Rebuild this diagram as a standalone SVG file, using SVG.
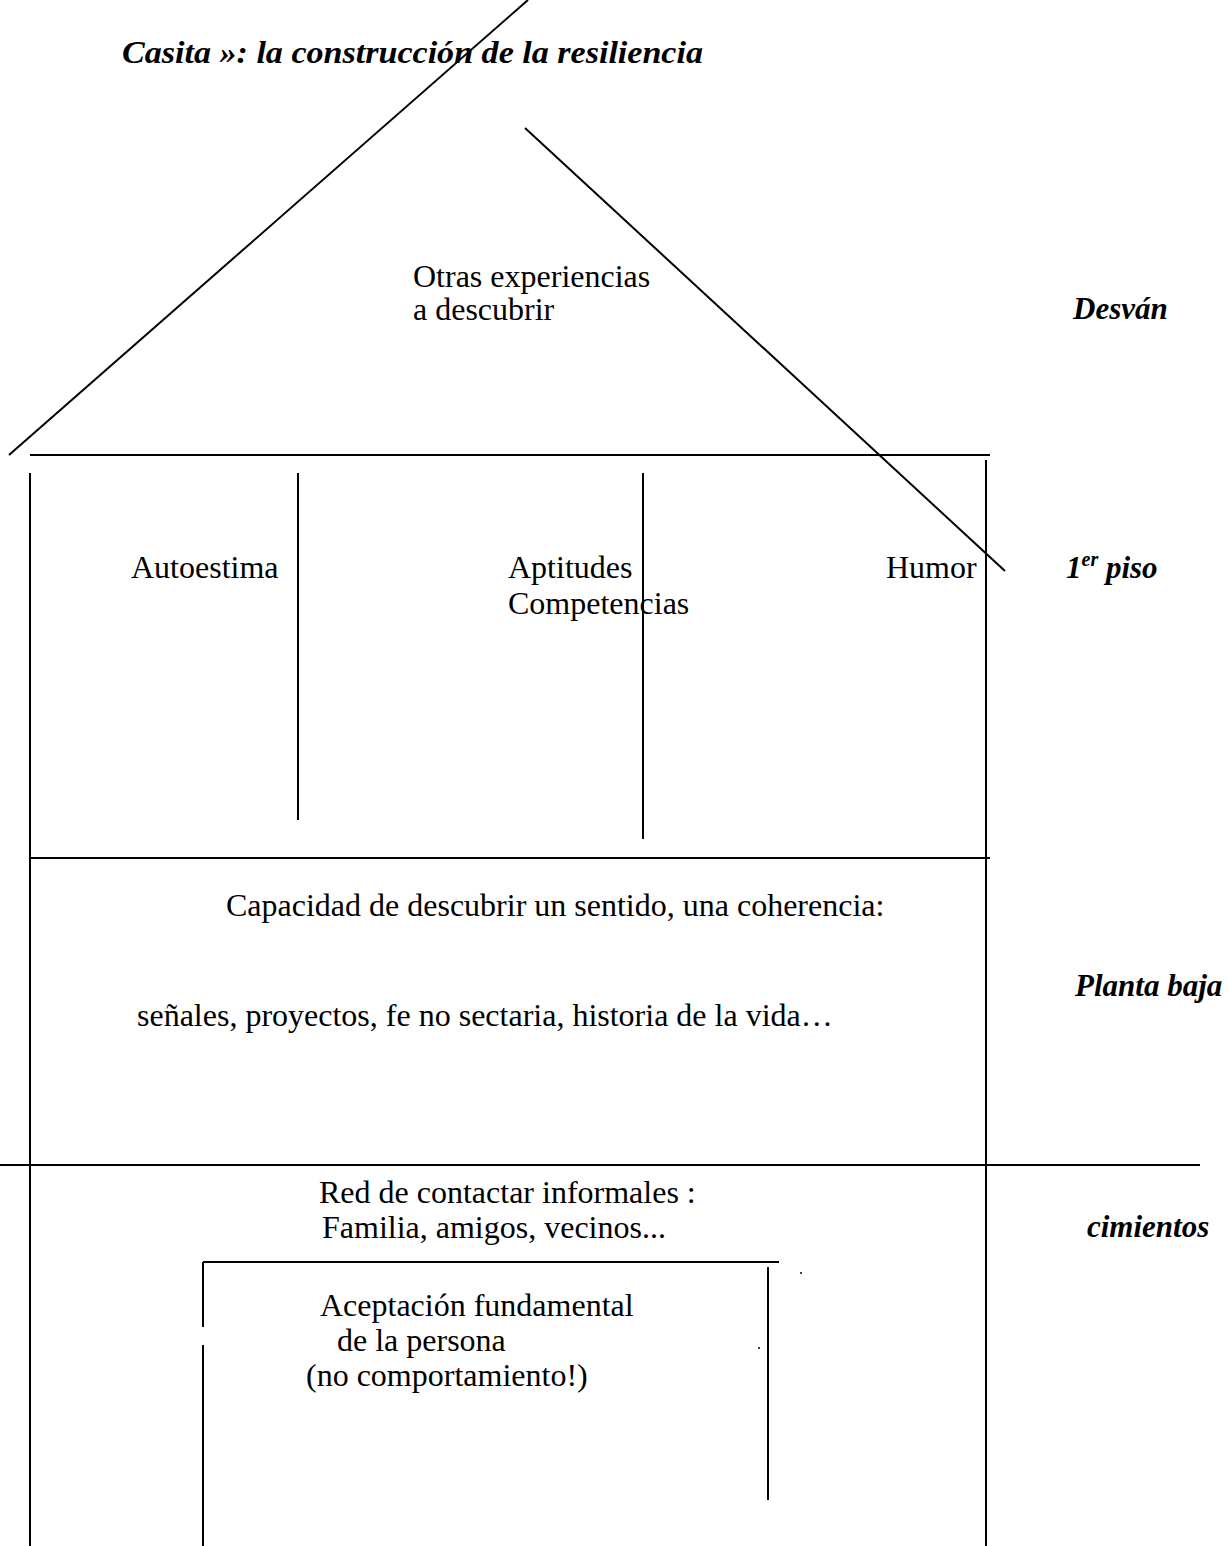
<svg xmlns="http://www.w3.org/2000/svg" width="1228" height="1546" viewBox="0 0 1228 1546">
<style>
.t{font-family:"Liberation Serif","Times New Roman",serif;font-size:32px;fill:#000}
.b{font-family:"Liberation Serif","Times New Roman",serif;font-size:31px;font-weight:bold;font-style:italic;fill:#000}
.l{stroke:#000;stroke-width:2;fill:none}
</style>
<rect width="1228" height="1546" fill="#fff"/>
<g id="title"><text class="b" x="122" y="63" font-size="34" textLength="581" lengthAdjust="spacingAndGlyphs">Casita »: la construcción de la resiliencia</text></g>
<g id="connectors">
<line class="l" x1="9" y1="455" x2="528" y2="0"/>
<line class="l" x1="525" y1="128" x2="1005" y2="571"/>
<line class="l" x1="30" y1="455" x2="990" y2="455"/>
<line class="l" x1="30" y1="473" x2="30" y2="1546"/>
<line class="l" x1="986" y1="460" x2="986" y2="1546"/>
<line class="l" x1="298" y1="473" x2="298" y2="820"/>
<line class="l" x1="643" y1="473" x2="643" y2="839"/>
<line class="l" x1="30" y1="858" x2="990" y2="858"/>
<line class="l" x1="0" y1="1165" x2="1200" y2="1165"/>
<line class="l" x1="203" y1="1262" x2="779" y2="1262"/>
<line class="l" x1="203" y1="1262" x2="203" y2="1327"/>
<line class="l" x1="203" y1="1345" x2="203" y2="1546"/>
<line class="l" x1="768" y1="1267" x2="768" y2="1500"/>
<circle cx="801" cy="1273" r="1" fill="#000"/>
<circle cx="759" cy="1348" r="1" fill="#000"/>
</g>
<g id="desvan">
<text class="t" x="413" y="287">Otras experiencias</text>
<text class="t" x="413" y="320">a descubrir</text>
<text class="b" x="1073" y="319" font-size="32">Desván</text>
</g>
<g id="piso">
<text class="t" x="131" y="578">Autoestima</text>
<text class="t" x="508" y="578">Aptitudes</text>
<text class="t" x="508" y="614">Competencias</text>
<text class="t" x="886" y="578">Humor</text>
<text class="b" x="1066" y="578">1<tspan font-size="20" dy="-12">er</tspan><tspan dy="12"> piso</tspan></text>
</g>
<g id="planta">
<text class="t" x="226" y="916">Capacidad de descubrir un sentido, una coherencia:</text>
<text class="t" x="137" y="1026">señales, proyectos, fe no sectaria, historia de la vida…</text>
<text class="b" x="1075" y="996">Planta baja</text>
</g>
<g id="cimientos">
<text class="t" x="319" y="1203">Red de contactar informales :</text>
<text class="t" x="322" y="1238">Familia, amigos, vecinos...</text>
<text class="b" x="1087" y="1237" font-size="29">cimientos</text>
</g>
<g id="aceptacion">
<text class="t" x="320" y="1316">Aceptación fundamental</text>
<text class="t" x="337" y="1351">de la persona</text>
<text class="t" x="306" y="1386">(no comportamiento!)</text>
</g>
</svg>
